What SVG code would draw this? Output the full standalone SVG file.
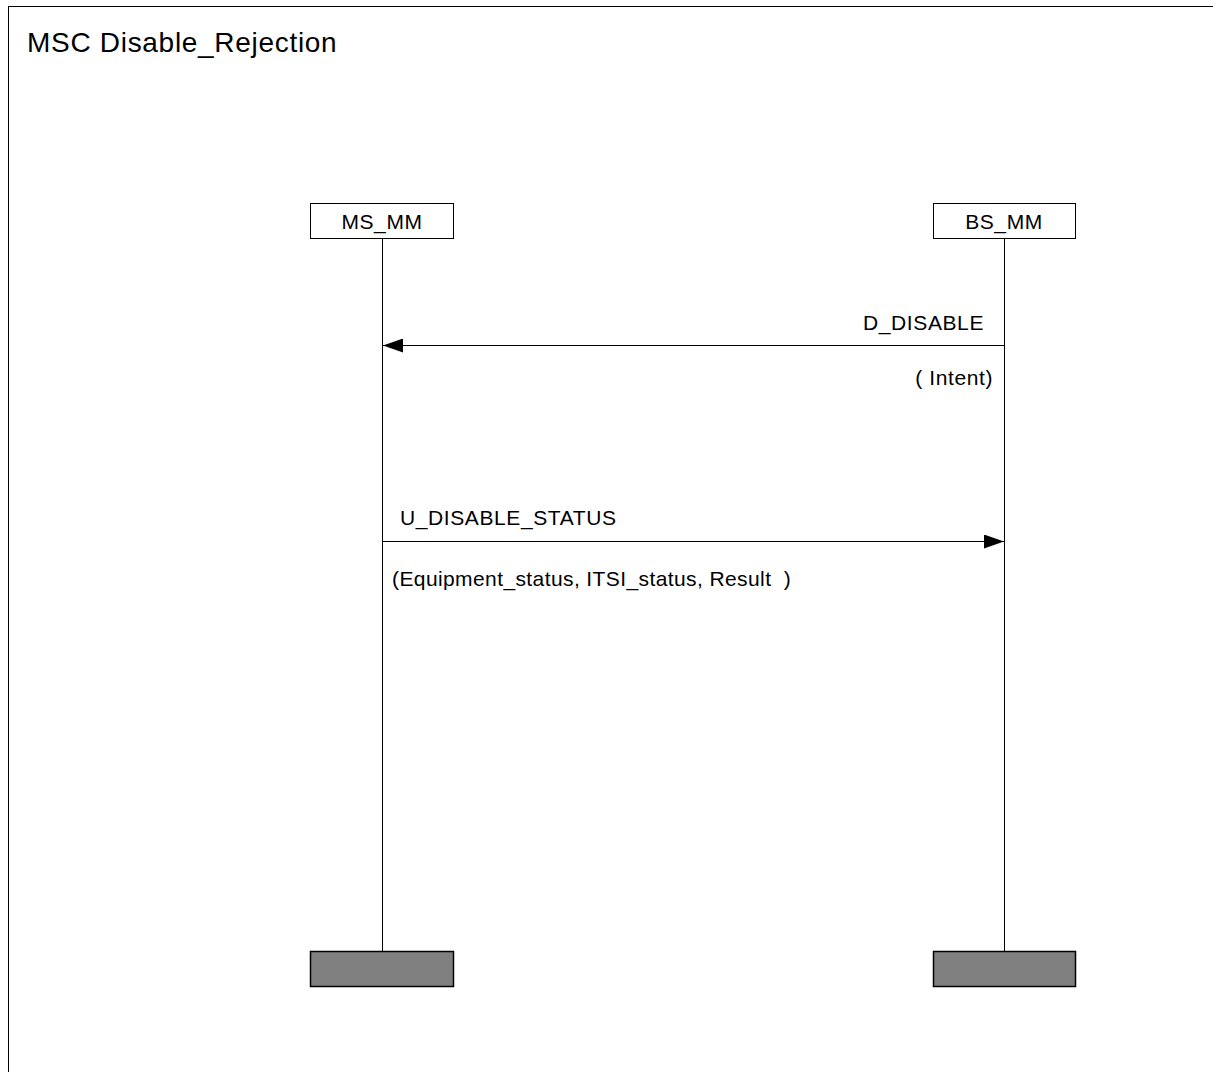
<svg xmlns="http://www.w3.org/2000/svg" width="1213" height="1072" viewBox="0 0 1213 1072">
<style>
text{font-family:"Liberation Sans",Arial,sans-serif;fill:#000}
.title{font-size:28px;letter-spacing:0.7px}
.lbl{font-size:21px;letter-spacing:0.6px}
.param{letter-spacing:0.4px}
.inst{fill:#fff;stroke:#000;stroke-width:1}
.end{fill:#808080;stroke:#000;stroke-width:1.5}
.life{stroke:#000;stroke-width:1}
.msg{stroke:#000;stroke-width:1}
</style>
<defs>
<marker id="ah" markerWidth="20" markerHeight="14" refX="20" refY="7" orient="auto" markerUnits="userSpaceOnUse">
<path d="M0,0 L20,7 L0,14 Z" fill="#000"/>
</marker>
</defs>
<rect x="8.5" y="6.5" width="1220" height="1080" fill="#fff" stroke="#000" stroke-width="1"/>
<text class="title" x="27" y="52">MSC Disable_Rejection</text>
<g id="MS_MM">
<rect class="inst" x="310.5" y="203.5" width="143" height="35"/>
<text class="lbl" x="382" y="229" text-anchor="middle">MS_MM</text>
<line class="life" x1="382.5" y1="239" x2="382.5" y2="952"/>
<rect class="end" x="310.5" y="951.5" width="143" height="35"/>
</g>
<g id="BS_MM">
<rect class="inst" x="933.5" y="203.5" width="142" height="35"/>
<text class="lbl" x="1004" y="229" text-anchor="middle">BS_MM</text>
<line class="life" x1="1004.5" y1="239" x2="1004.5" y2="952"/>
<rect class="end" x="933.5" y="951.5" width="142" height="35"/>
</g>
<g id="connectors">
<g id="m1">
<line class="msg" x1="1004" y1="345.5" x2="383" y2="345.5" marker-end="url(#ah)"/>
<text class="lbl" x="984" y="330" text-anchor="end">D_DISABLE</text>
<text class="lbl" x="993" y="385" text-anchor="end">( Intent)</text>
</g>
<g id="m2">
<line class="msg" x1="383" y1="541.5" x2="1004" y2="541.5" marker-end="url(#ah)"/>
<text class="lbl" x="400" y="525">U_DISABLE_STATUS</text>
<text class="lbl param" x="392" y="586">(Equipment_status, ITSI_status, Result&#160; )</text>
</g>
</g>
</svg>
